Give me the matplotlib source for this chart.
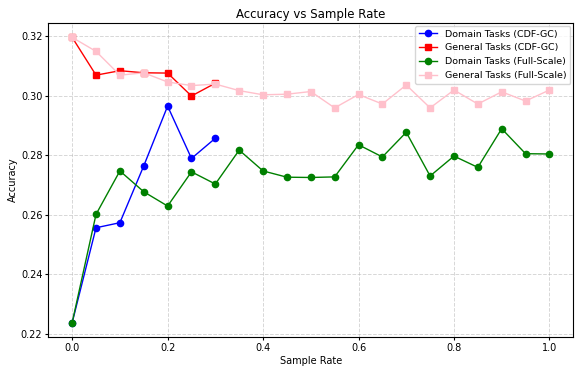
import matplotlib
matplotlib.use('Agg')
import matplotlib.pyplot as plt
import numpy as np

# ===== DADOS =====
rates_cdf = [0.0, 0.05, 0.10, 0.15, 0.20, 0.25, 0.30]
rates_full = [0.0, 0.05, 0.10, 0.15, 0.20, 0.25, 0.30, 0.35, 0.40, 0.45, 0.50,
              0.55, 0.60, 0.65, 0.70, 0.75, 0.80, 0.85, 0.90, 0.95, 1.0]

domain_cdf = [0.2238, 0.2557, 0.2574, 0.2765, 0.2966, 0.2790, 0.2858]
general_cdf = [0.3197, 0.3070, 0.3085, 0.3078, 0.3077, 0.3000, 0.3043]
domain_full = [0.2238, 0.2602, 0.2748, 0.2678, 0.2630, 0.2745, 0.2704, 0.2818,
               0.2748, 0.2727, 0.2726, 0.2728, 0.2836, 0.2795, 0.2878, 0.2731,
               0.2798, 0.2760, 0.2890, 0.2806, 0.2805]
general_full = [0.3197, 0.3150, 0.3070, 0.3078, 0.3047, 0.3035, 0.3040, 0.3018,
                0.3004, 0.3006, 0.3015, 0.2960, 0.3005, 0.2973, 0.3037, 0.2960,
                0.3020, 0.2973, 0.3014, 0.2983, 0.3020]

# ===== PLOT =====
fig, ax = plt.subplots(figsize=(5.75, 3.67), dpi=100)

ms = 4.5
lw = 1.0
ax.plot(rates_cdf, domain_cdf, marker='o', color='blue', ms=ms, lw=lw,
        label='Domain Tasks (CDF-GC)')
ax.plot(rates_cdf, general_cdf, marker='s', color='red', ms=ms, lw=lw,
        label='General Tasks (CDF-GC)')
ax.plot(rates_full, domain_full, marker='o', color='green', ms=ms, lw=lw,
        label='Domain Tasks (Full-Scale)')
ax.plot(rates_full, general_full, marker='s', color='pink', ms=ms, lw=lw,
        label='General Tasks (Full-Scale)')

ax.set_title('Accuracy vs Sample Rate', fontsize=8.5, pad=4)
ax.set_xlabel('Sample Rate', fontsize=7, labelpad=2)
ax.set_ylabel('Accuracy', fontsize=7, labelpad=2)
ax.tick_params(labelsize=7, length=2.2, pad=2)
ax.grid(True, linestyle='--', alpha=0.5, linewidth=0.7)
ax.legend(fontsize=6.8, loc='upper right', borderaxespad=0.3, handlelength=2)

fig.subplots_adjust(left=0.084, right=0.997, top=0.937, bottom=0.082)
plt.savefig('out.png', dpi=100)
